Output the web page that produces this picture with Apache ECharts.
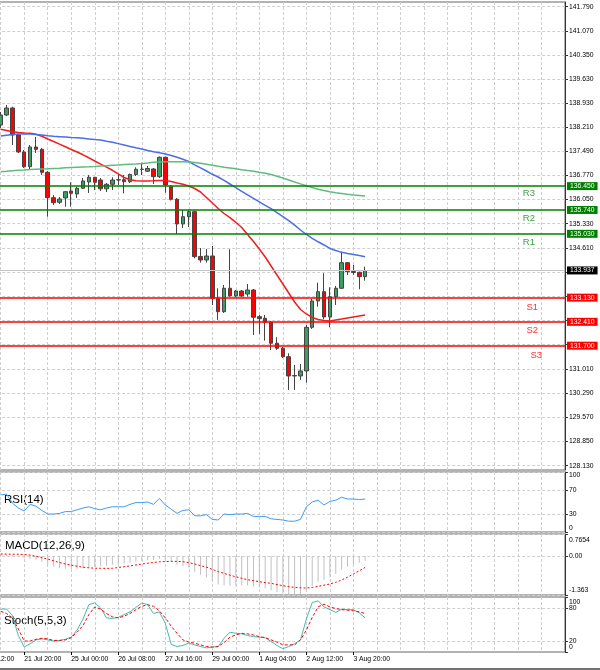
<!DOCTYPE html>
<html><head><meta charset="utf-8">
<script src="https://cdn.jsdelivr.net/npm/echarts/dist/echarts.min.js"></script>
<style>html,body{margin:0;padding:0;background:#fff}#c{width:600px;height:670px}</style>
</head><body><div id="c"></div><script>
// ---- categories (H4 bars); first 4 are off-screen lead-in slots ----
const times = ['20 Jul 12:00','20 Jul 16:00','20 Jul 20:00','21 Jul 00:00',
'21 Jul 04:00','21 Jul 08:00','21 Jul 12:00','21 Jul 16:00','21 Jul 20:00',
'22 Jul 00:00','22 Jul 04:00','22 Jul 08:00','22 Jul 12:00','22 Jul 16:00','22 Jul 20:00',
'24 Jul 20:00',
'25 Jul 00:00','25 Jul 04:00','25 Jul 08:00','25 Jul 12:00','25 Jul 16:00','25 Jul 20:00',
'26 Jul 00:00','26 Jul 04:00','26 Jul 08:00','26 Jul 12:00','26 Jul 16:00','26 Jul 20:00',
'27 Jul 00:00','27 Jul 04:00','27 Jul 08:00','27 Jul 12:00','27 Jul 16:00','27 Jul 20:00',
'28 Jul 00:00','28 Jul 04:00','28 Jul 08:00','28 Jul 12:00','28 Jul 16:00','28 Jul 20:00',
'29 Jul 00:00','29 Jul 04:00','29 Jul 08:00','29 Jul 12:00','29 Jul 16:00','29 Jul 20:00',
'31 Jul 20:00',
'1 Aug 00:00','1 Aug 04:00','1 Aug 08:00','1 Aug 12:00','1 Aug 16:00','1 Aug 20:00',
'2 Aug 00:00','2 Aug 04:00','2 Aug 08:00','2 Aug 12:00','2 Aug 16:00','2 Aug 20:00',
'3 Aug 00:00','3 Aug 04:00','3 Aug 08:00','3 Aug 12:00','3 Aug 16:00','3 Aug 20:00',
'4 Aug 00:00','4 Aug 04:00'];
const LEAD = 4;      // lead-in slots without data
const SLOTS = 101;   // total category slots (chart shift area included)

// ---- OHLC ----
const opens = [138.269,138.567,138.775,137.972,137.466,137.028,137.614,137.546,136.861,136.106,135.969,136.097,136.305,136.216,136.385,136.573,136.713,136.632,136.370,136.504,136.632,136.638,136.582,136.796,136.945,136.894,136.960,136.731,137.308,136.433,136.058,135.323,135.540,135.689,134.356,134.251,134.370,133.111,132.713,133.409,133.180,133.329,133.239,133.358,132.564,132.516,132.397,131.772,131.623,131.373,130.799,130.799,130.948,132.248,133.031,133.308,132.555,133.159,133.409,134.171,133.909,133.885,133.754];
const closes = [138.567,138.775,137.972,137.466,137.028,137.614,137.546,136.861,136.106,135.957,136.067,136.284,136.236,136.385,136.603,136.713,136.564,136.370,136.504,136.632,136.638,136.582,136.796,136.951,136.954,136.975,136.731,137.308,136.483,136.058,135.323,135.540,135.689,134.350,134.251,134.370,133.111,132.713,133.409,133.180,133.329,133.180,133.358,132.546,132.504,132.397,131.772,131.623,131.373,130.799,130.814,130.948,132.248,133.031,133.308,132.555,133.159,133.409,134.171,133.903,133.879,133.754,133.937];
const highs = [138.656,138.864,138.814,138.001,137.525,137.674,137.912,137.585,136.900,136.186,136.126,136.305,136.564,136.433,136.692,136.781,136.722,136.692,136.543,136.713,136.781,136.781,136.826,137.010,137.147,137.049,136.989,137.332,137.332,136.483,136.097,135.739,135.739,135.724,134.608,134.579,134.668,133.409,133.507,134.570,133.358,133.358,133.537,133.388,132.614,132.614,132.436,131.951,131.662,131.474,131.126,131.156,132.317,133.091,133.576,133.856,133.439,133.478,134.498,134.192,134.102,133.903,134.052];
const lows = [138.180,138.537,137.674,137.436,136.989,136.930,137.436,136.781,135.540,135.888,135.918,135.838,135.838,136.097,136.364,136.245,136.335,136.305,136.275,136.335,136.483,136.236,136.543,136.751,136.781,136.870,136.513,136.692,136.254,136.022,135.025,135.204,135.233,134.302,134.171,134.171,132.912,132.466,132.674,133.159,133.150,133.150,133.159,132.019,132.049,131.850,131.573,131.573,131.335,130.382,130.382,130.680,130.600,132.198,132.861,132.486,132.248,132.912,133.388,133.805,133.805,133.379,133.635];

// ---- moving averages ----
const maRed = [138.141,138.105,138.069,138.046,138.034,138.025,137.995,137.933,137.852,137.778,137.700,137.623,137.540,137.465,137.382,137.293,137.197,137.102,137.013,136.921,136.811,136.706,136.638,136.608,136.602,136.602,136.608,136.617,136.617,136.587,136.543,136.504,136.453,136.379,136.275,136.111,135.948,135.784,135.635,135.510,135.373,135.218,135.010,134.802,134.579,134.340,134.073,133.805,133.537,133.269,133.001,132.778,132.644,132.540,132.480,132.451,132.436,132.466,132.495,132.525,132.555,132.585,132.614];
const maBlue = [137.941,137.965,137.989,137.998,138.001,137.998,137.989,137.971,137.947,137.933,137.921,137.909,137.897,137.888,137.873,137.855,137.837,137.822,137.787,137.754,137.715,137.674,137.632,137.590,137.555,137.510,137.474,137.441,137.406,137.361,137.311,137.248,137.183,137.084,136.995,136.900,136.802,136.721,136.620,136.513,136.403,136.296,136.192,136.087,135.983,135.879,135.778,135.662,135.543,135.421,135.287,135.144,135.010,134.897,134.793,134.698,134.594,134.534,134.478,134.445,134.415,134.382,134.349];
const maGreen = [136.879,136.891,136.906,136.921,136.930,136.941,136.953,136.959,136.965,136.977,136.983,136.995,137.004,137.013,137.022,137.028,137.037,137.049,137.058,137.070,137.078,137.090,137.102,137.111,137.123,137.138,137.159,137.168,137.174,137.177,137.177,137.177,137.168,137.150,137.132,137.102,137.072,137.040,137.013,136.989,136.965,136.939,136.915,136.891,136.861,136.834,136.796,136.742,136.692,136.632,136.573,136.516,136.462,136.406,136.358,136.319,136.284,136.254,136.230,136.206,136.186,136.171,136.156];

// ---- support / resistance ----
const srNames = ['R3','R2','R1','S1','S2','S3'];
const srValues = [136.450,135.740,135.030,133.130,132.410,131.700];
const lastPrice = 133.937;

// ---- indicators ----
const rsi = [62,63,48,40,35,46,43,36,30,30,31,34,34,37,40,42,39,37,40,42,42,42,46,49,49,50,46,56,45,38,31,36,37,27,27,29,21,20,30,29,30,30,31,26,26,26,22,21,20,18,18,21,42,50,53,45,51,53,58,55,55,54,55];
const macdHist = [0.04,0.05,0.02,-0.03,-0.09,-0.11,-0.13,-0.20,-0.30,-0.38,-0.43,-0.45,-0.46,-0.45,-0.43,-0.41,-0.39,-0.37,-0.34,-0.31,-0.29,-0.27,-0.24,-0.20,-0.17,-0.15,-0.14,-0.10,-0.13,-0.19,-0.30,-0.36,-0.41,-0.55,-0.66,-0.74,-0.88,-1.00,-1.03,-1.04,-1.04,-1.03,-1.02,-1.07,-1.10,-1.13,-1.20,-1.26,-1.31,-1.36,-1.363,-1.33,-1.20,-1.05,-0.90,-0.83,-0.73,-0.63,-0.48,-0.38,-0.30,-0.24,-0.18];
const macdSignal = [0.066,0.064,0.060,0.057,0.048,0.030,-0.015,-0.060,-0.110,-0.170,-0.230,-0.280,-0.320,-0.360,-0.395,-0.415,-0.428,-0.432,-0.434,-0.430,-0.405,-0.375,-0.350,-0.315,-0.283,-0.255,-0.228,-0.205,-0.197,-0.190,-0.190,-0.200,-0.235,-0.280,-0.340,-0.390,-0.470,-0.550,-0.610,-0.670,-0.730,-0.780,-0.830,-0.864,-0.900,-0.930,-0.955,-1.000,-1.039,-1.070,-1.097,-1.110,-1.120,-1.100,-1.062,-1.020,-0.980,-0.920,-0.840,-0.740,-0.630,-0.520,-0.400];
const stochMain = [78,78,66,30,9,15,22,24,22,20,21,23,27,40,60,86,89.5,80,62,61,63,68,73,81,89,86,70,73,52,14,10,12,16,13,10,7.5,9,10,25,36,34,33,30,28,27,26,19,12,6,10,15,22,60,90,93,82,77,72,78,77,77,71,62];
const stochSignal = [74,70,62,42,20,20,23,25,24,21,21,22,26,36,48,68,82,78,70,64,62,65,70,77,83,86,83,75,62,47,34,22,18,16,13,10,9,10,17,27,31,34,33,31,28,26,22,18,13,13,13,22,40,63,82,87,82,79,77,76,75,73,70];

// ---- axis tick labels ----
const priceTicks = [128.13,128.85,129.57,130.29,131.01,131.73,132.45,133.17,133.89,134.61,135.33,136.05,136.77,137.49,138.21,138.93,139.63,140.35,141.07,141.79];
const priceLabels = ['128.130','128.850','129.570','130.290','131.010','134.610','135.330','136.050','136.770','137.490','138.210','138.930','139.630','140.350','141.070','141.790'];
const rsiLabels = [0,30,70,100];
const macdLabels = [-1.363,0,0.7654];
const stochInnerLabels = [20,80];
const stochEdgeLabels = [0,100];

// ---------------------------------------------------------------
const FONT = "'Liberation Sans',Arial,sans-serif";
const FS = 6.8;
const cats = times.concat(Array(SLOTS - times.length).fill(''));
const lead = a => Array(LEAD).fill(null).concat(a);
const candles = Array(LEAD).fill(['-','-','-','-']).concat(opens.map((o,i)=>[o, closes[i], lows[i], highs[i]]));

const GREEN = '#008000', RED = '#ff0000';
const gridBase = {left:-22.81, right:35, show:true, borderColor:'#666', borderWidth:1,
  containLabel:false, outerBoundsMode:'none'};
const grids = [
  Object.assign({top:2, height:468}, gridBase),
  Object.assign({top:472, height:60}, gridBase),
  Object.assign({top:534, height:61}, gridBase),
  Object.assign({top:597, height:55}, gridBase)
];
const labelInt = (i) => i % 8 === 0 && cats[i] !== '';
const gridInt = (i) => i % 4 === 0;
const dash = {color:'#cfcfcf', type:[3,2], width:1};
const xAxes = grids.map((g,i)=>({
  type:'category', gridIndex:i, data:cats, boundaryGap:false,
  axisLine:{show:false},
  axisTick:{show:i===3, interval:labelInt, length:3, lineStyle:{color:'#000'}},
  axisLabel:{show:i===3, interval:labelInt, align:'left', fontSize:FS, fontFamily:FONT, color:'#000', margin:4,
    hideOverlap:false, showMinLabel:true},
  splitLine:{show:true, interval:gridInt, lineStyle:dash}
}));
const axisCommon = (i) => ({
  type:'value', gridIndex:i, position:'right',
  axisLine:{show:true, lineStyle:{color:'#333'}},
  splitLine:{show:true, lineStyle:dash}
});
const lblStyle = {fontSize:FS, fontFamily:FONT, color:'#000', margin:4, hideOverlap:false};
const richTB = (t,b) => ({t:{padding:[t,0,0,0],fontSize:FS,fontFamily:FONT}, b:{padding:[0,0,b,0],fontSize:FS,fontFamily:FONT}});
const yAxes = [
  Object.assign(axisCommon(0), {min:128.0, max:141.93,
    axisTick:{show:true, length:3, customValues:priceTicks, lineStyle:{color:'#333'}},
    axisLabel:Object.assign({customValues:priceLabels.map(Number), formatter:v=>v.toFixed(3)}, lblStyle)}),
  Object.assign(axisCommon(1), {min:0, max:100,
    axisTick:{show:true, length:3, customValues:rsiLabels, lineStyle:{color:'#333'}},
    axisLabel:Object.assign({customValues:rsiLabels, showMinLabel:true, showMaxLabel:true,
      formatter:v=> v===100?'{t|100}':(v===0?'{b|0}':String(v)), rich:richTB(7,7)}, lblStyle)}),
  Object.assign(axisCommon(2), {min:-1.363, max:0.7654,
    axisTick:{show:true, length:3, customValues:macdLabels, lineStyle:{color:'#333'}},
    axisLabel:Object.assign({customValues:macdLabels, showMinLabel:true, showMaxLabel:true,
      formatter:v=> v===0?'0.00':(v>0?'{t|0.7654}':'{b|-1.363}'), rich:richTB(12,9)}, lblStyle)}),
  Object.assign(axisCommon(3), {min:0, max:100,
    axisTick:{show:true, length:3, customValues:stochInnerLabels, lineStyle:{color:'#333'}},
    axisLabel:Object.assign({customValues:stochInnerLabels, formatter:v=>String(v)}, lblStyle)}),
  {type:'value', gridIndex:3, position:'right', min:0, max:100,
    axisLine:{show:false}, splitLine:{show:false},
    axisTick:{show:true, length:3, customValues:stochEdgeLabels, lineStyle:{color:'#333'}},
    axisLabel:Object.assign({customValues:stochEdgeLabels, showMinLabel:true, showMaxLabel:true,
      formatter:v=> v===100?'{t|100}':'{b|0}', rich:richTB(10,9)}, lblStyle)}
];

const srDist = [[30,2],[30,3],[30,4],[27,5],[27,4],[23,5]];
const srLines = srValues.map((v,i)=>{
  const isR = srNames[i][0]==='R';
  return {yAxis:v, lineStyle:{color:isR?GREEN:RED, width:1.5, type:'solid'},
    label:{show:true, formatter:srNames[i], position:'insideEndBottom', distance:srDist[i],
      color:isR?'#3f9f3f':'#ff3030', fontSize:9.5, fontFamily:FONT}};
});
const boxLines = srValues.map((v,i)=>({yAxis:v,
  label:{formatter:v.toFixed(3), backgroundColor:srNames[i][0]==='R'?GREEN:RED}}))
  .concat([{yAxis:lastPrice, lineStyle:{color:'#c4c4c4', width:1, type:'solid'},
    label:{formatter:lastPrice.toFixed(3), backgroundColor:'#000'}}]);

const option = {
  animation:false,
  backgroundColor:'#fff',
  grid:grids, xAxis:xAxes, yAxis:yAxes,
  graphic:[
    {type:'text', left:4, top:494, style:{text:'RSI(14)', font:'11.5px '+FONT, fill:'#000'}},
    {type:'text', left:5, top:540, style:{text:'MACD(12,26,9)', font:'11.5px '+FONT, fill:'#000'}},
    {type:'text', left:4, top:615, style:{text:'Stoch(5,5,3)', font:'11.5px '+FONT, fill:'#000'}},
    {type:'line', shape:{x1:0,y1:669,x2:600,y2:669}, style:{stroke:'#444', lineWidth:1.5}}
  ],
  series:[
    {type:'candlestick', xAxisIndex:0, yAxisIndex:0, data:candles, barWidth:4, z:2,
      itemStyle:{color:'#3a9d62', color0:RED, borderColor:'#444', borderColor0:'#444', borderWidth:1}},
    {type:'line', xAxisIndex:0, yAxisIndex:0, data:lead(maRed), showSymbol:false, z:4,
      lineStyle:{color:'#f01e1e', width:1.5}},
    {type:'line', xAxisIndex:0, yAxisIndex:0, data:lead(maBlue), showSymbol:false, z:4,
      lineStyle:{color:'#4a6ee8', width:1.5},
      markLine:{silent:true, symbol:['none','none'], z:6, data:srLines}},
    {type:'line', xAxisIndex:0, yAxisIndex:0, data:lead(maGreen), showSymbol:false, z:4,
      lineStyle:{color:'#5fbb7e', width:1.5},
      markLine:{silent:true, symbol:['none','none'], z:7,
        lineStyle:{color:'rgba(0,0,0,0)', width:1},
        label:{show:true, position:'end', distance:2, color:'#fff', fontSize:FS, fontFamily:FONT, padding:[1,3,0,3]},
        data:boxLines}},
    {type:'line', xAxisIndex:1, yAxisIndex:1, data:lead(rsi), showSymbol:false,
      lineStyle:{color:'#3c9cf4', width:1}},
    {type:'bar', xAxisIndex:2, yAxisIndex:2, data:lead(macdHist), barWidth:1,
      itemStyle:{color:'#c0c0c0'}},
    {type:'line', xAxisIndex:2, yAxisIndex:2, data:lead(macdSignal), showSymbol:false,
      lineStyle:{color:RED, width:1, type:[2,2]}},
    {type:'line', xAxisIndex:3, yAxisIndex:3, data:lead(stochMain), showSymbol:false,
      lineStyle:{color:'#3fbcb0', width:1}},
    {type:'line', xAxisIndex:3, yAxisIndex:3, data:lead(stochSignal), showSymbol:false,
      lineStyle:{color:RED, width:1, type:[3,2]}}
  ]
};
echarts.init(document.getElementById('c'), null, {renderer:'canvas'}).setOption(option);
</script></body></html>
